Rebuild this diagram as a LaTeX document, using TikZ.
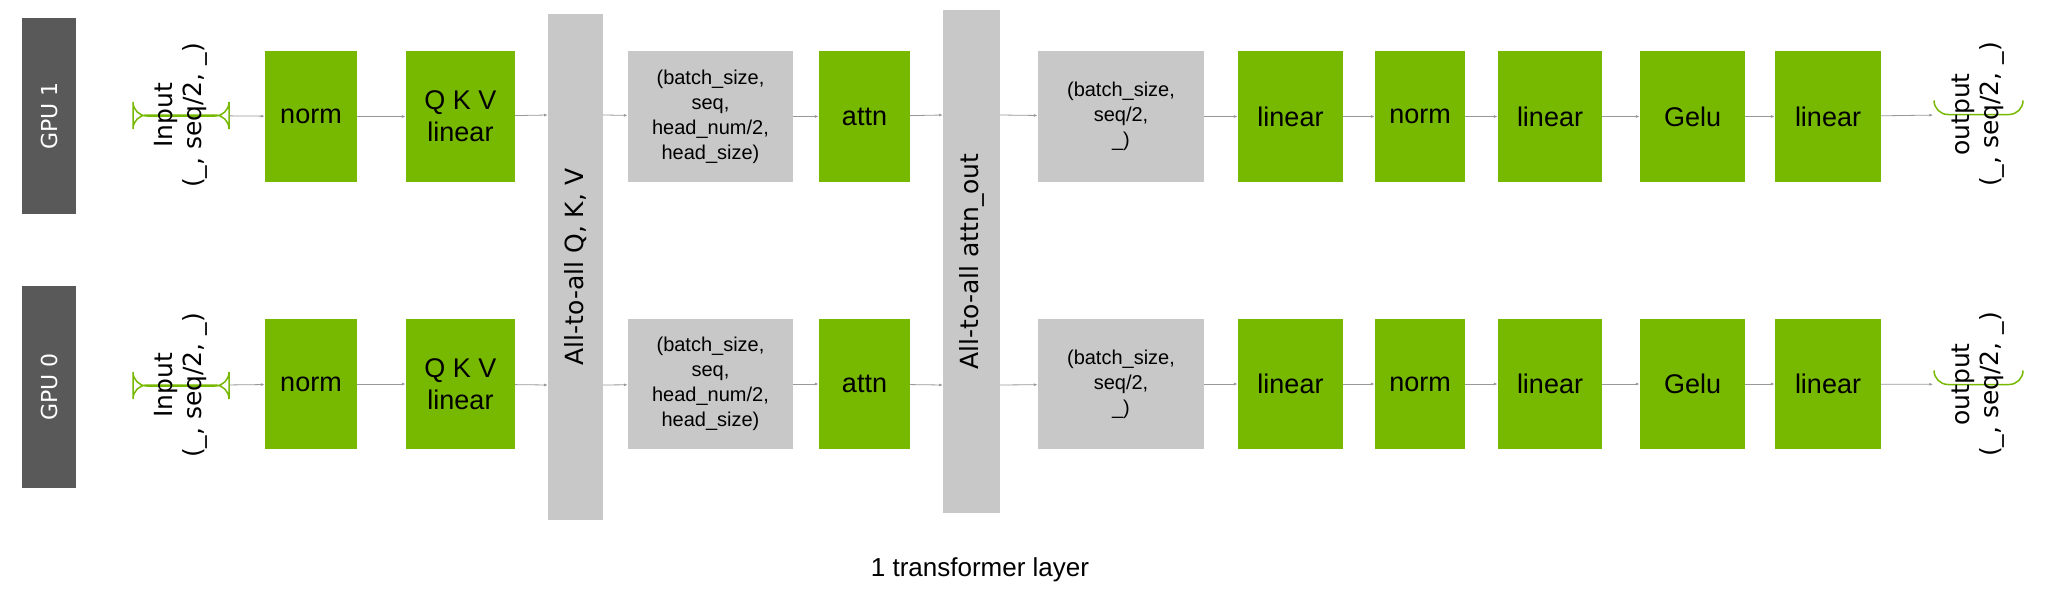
\documentclass[tikz,border=0pt]{standalone}
\usepackage{fontspec}
\usetikzlibrary{arrows.meta}
\setmainfont{DejaVu Sans}
\newfontfamily\boxfont{Liberation Sans}
\definecolor{nvgreen}{HTML}{76B900}
\definecolor{lgray}{HTML}{C8C8C8}
\definecolor{dgray}{HTML}{595959}
\begin{document}
\begin{tikzpicture}[x=1pt,y=-1pt,
  gbox/.style={fill=nvgreen,draw=none,inner sep=0pt,font=\boxfont\fontsize{27}{30}\selectfont,align=center},
  sbox/.style={fill=lgray,draw=none,inner sep=0pt,font=\boxfont\fontsize{20}{25}\selectfont,align=center},
  io/.style={draw=nvgreen,line width=1.5pt,rounded corners=14pt,fill=white,inner sep=0pt},
  gpu/.style={fill=dgray,draw=none,inner sep=0pt},
  arr/.style={draw=gray!80,line width=0.8pt,-{Latex[length=4pt,width=3pt]}}]
\useasboundingbox (0,0) rectangle (2048,594);
\newcommand{\bx}[6]{\node[#1,minimum width=#4-#3,minimum height=#6-#5] (#2) at ({(#3+#4)/2},{(#5+#6)/2}) {};}
% GPU labels
\bx{gpu}{g1}{22}{76}{18}{214}
\bx{gpu}{g0}{22}{76}{286}{488}
\node[rotate=90,text=white,font=\fontsize{22}{26}\selectfont] at (g1) {GPU 1};
\node[rotate=90,text=white,font=\fontsize{22}{26}\selectfont] at (g0) {GPU 0};
% all-to-all bars
\bx{sbox}{a1}{548}{603}{14}{520}
\bx{sbox}{a2}{943}{1000}{10}{513}
\node[rotate=90,font=\fontsize{25}{30}\selectfont] at (a1) {All-to-all Q, K, V};
\node[rotate=90,font=\fontsize{25}{30}\selectfont] at (a2) {All-to-all attn\_out};
\foreach \r/\t/\b/\c in {t/51/182/115, b/319/449/385}{
  \bx{io}{in\r}{133}{229}{\c-100}{\c+101}
  \node[rotate=90,align=center,font=\fontsize{25}{29}\selectfont] at (in\r) {Input\\(\_, seq/2, \_)};
  \bx{gbox}{n\r}{265}{357}{\t}{\b}
  \node[font=\boxfont\fontsize{27}{30}\selectfont] at (n\r) {norm};
  \bx{gbox}{q\r}{406}{515}{\t}{\b}
  \node[align=center,font=\boxfont\fontsize{27}{32}\selectfont] at (q\r) {Q K V\\linear};
  \bx{sbox}{s\r}{628}{793}{\t}{\b}
  \node[align=center,font=\boxfont\fontsize{20}{25}\selectfont] at (s\r) {(batch\_size,\\seq,\\head\_num/2,\\head\_size)};
  \bx{gbox}{at\r}{819}{910}{\t}{\b}
  \node[font=\boxfont\fontsize{27}{30}\selectfont] at (at\r) {attn};
  \bx{sbox}{u\r}{1038}{1204}{\t}{\b}
  \node[align=center,font=\boxfont\fontsize{20}{25}\selectfont] at (u\r) {(batch\_size,\\seq/2,\\\_)};
  \bx{gbox}{l1\r}{1238}{1343}{\t}{\b}
  \node[font=\boxfont\fontsize{27}{30}\selectfont] at (l1\r) {linear};
  \bx{gbox}{m\r}{1375}{1465}{\t}{\b}
  \node[font=\boxfont\fontsize{27}{30}\selectfont] at (m\r) {norm};
  \bx{gbox}{l2\r}{1498}{1602}{\t}{\b}
  \node[font=\boxfont\fontsize{27}{30}\selectfont] at (l2\r) {linear};
  \bx{gbox}{ge\r}{1640}{1745}{\t}{\b}
  \node[font=\boxfont\fontsize{27}{30}\selectfont] at (ge\r) {Gelu};
  \bx{gbox}{l3\r}{1775}{1881}{\t}{\b}
  \node[font=\boxfont\fontsize{27}{30}\selectfont] at (l3\r) {linear};
  \bx{io}{o\r}{1934}{2023}{\c-101}{\c+100}
  \node[rotate=90,align=center,font=\fontsize{25}{29}\selectfont] at (o\r) {output\\(\_, seq/2, \_)};
  \coordinate (a1\r) at (548,\c); \coordinate (a1\r x) at (603,\c);
  \coordinate (a2\r) at (943,\c); \coordinate (a2\r x) at (1000,\c);
  \draw[arr] (in\r) -- (n\r);
  \draw[arr] (n\r) -- (q\r);
  \draw[arr] (q\r) -- (a1\r);
  \draw[arr] (a1\r x) -- (s\r);
  \draw[arr] (s\r) -- (at\r);
  \draw[arr] (at\r) -- (a2\r);
  \draw[arr] (a2\r x) -- (u\r);
  \draw[arr] (u\r) -- (l1\r);
  \draw[arr] (l1\r) -- (m\r);
  \draw[arr] (m\r) -- (l2\r);
  \draw[arr] (l2\r) -- (ge\r);
  \draw[arr] (ge\r) -- (l3\r);
  \draw[arr] (l3\r) -- (o\r);
}
\node[font=\boxfont\fontsize{26}{30}\selectfont] (cap) at (980,570) {1 transformer layer};
\end{tikzpicture}
\end{document}
